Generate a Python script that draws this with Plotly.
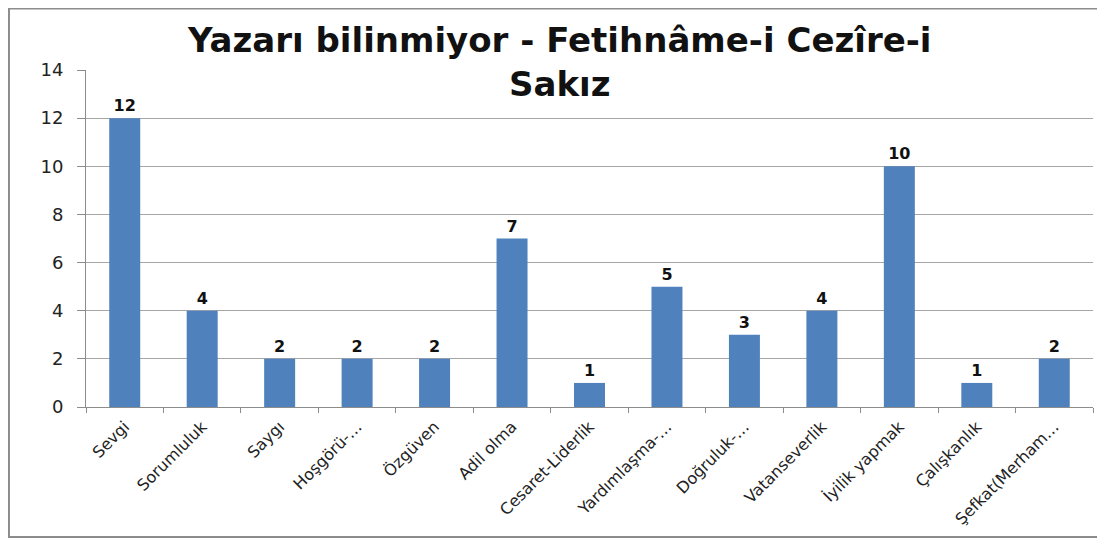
import plotly.graph_objects as go

categories = ["Sevgi", "Sorumluluk", "Saygı", "Hoşgörü-…", "Özgüven", "Adil olma",
              "Cesaret-Liderlik", "Yardımlaşma-…", "Doğruluk-…", "Vatanseverlik",
              "İyilik yapmak", "Çalışkanlık", "Şefkat(Merham…"]
values = [12, 4, 2, 2, 2, 7, 1, 5, 3, 4, 10, 1, 2]
y_ticks = [0, 2, 4, 6, 8, 10, 12, 14]

# page body has an 8px margin, so the figure is sized to fit the window
data = go.Bar(
    x=categories, y=values,
    marker=dict(color="#4f81bd", line=dict(width=0)),
    text=values, textposition="outside", cliponaxis=False,
    textfont=dict(family="DejaVu Sans", size=16, color="#111111", weight="bold"),
)
layout = {
    "title": {
        "text": "<b>Yazarı bilinmiyor - Fetihnâme-i Cezîre-i<br>Sakız</b>",
        "x": 0.503, "xanchor": "center", "y": 0.917, "yanchor": "middle",
        "font": {"family": "DejaVu Sans", "size": 34, "color": "#111111"},
    },
    "width": 1097, "height": 533,
    "margin": dict(l=78, r=12, t=62, b=134),
    "paper_bgcolor": "white", "plot_bgcolor": "white",
    "bargap": 0.6,
    "showlegend": False,
    "xaxis": dict(
        tickangle=-45, tickson="boundaries", ticks="outside", ticklen=5,
        tickcolor="#8c8c8c", showline=True, linecolor="#8c8c8c",
        automargin=False, ticklabelstandoff=3,
        tickfont=dict(family="DejaVu Sans", size=16, color="#222222"),
    ),
    "yaxis": dict(
        range=[0, 14], tickvals=y_ticks, ticks="outside", ticklen=8,
        tickcolor="#8c8c8c", showline=True, linecolor="#8c8c8c",
        gridcolor="#a6a6a6", gridwidth=1, zeroline=False,
        ticklabelstandoff=10, automargin=False,
        tickfont=dict(family="DejaVu Sans", size=18, color="#222222"),
    ),
    "shapes": [dict(type="rect", xref="paper", yref="paper",
                    x0=-0.0765, x1=1.03, y0=-0.3858, y1=1.1825,
                    line=dict(color="#8c8c8c", width=2))],
}
fig = go.Figure(data, layout)
fig.write_html("out.html")
